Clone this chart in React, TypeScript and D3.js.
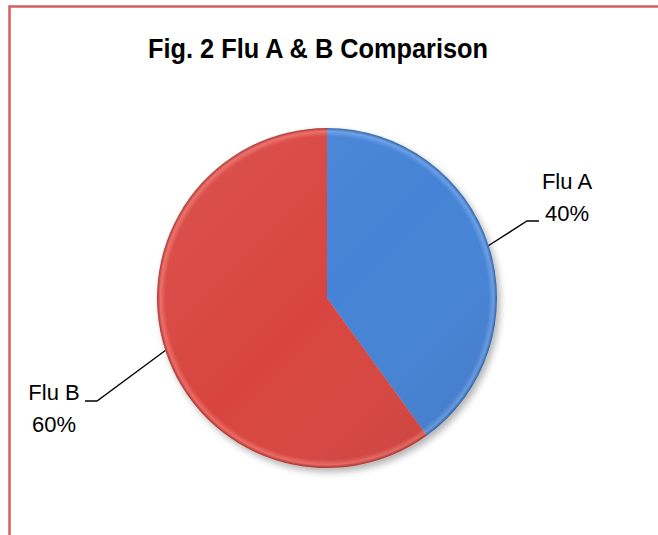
import React from "react";
import * as d3 from "d3";

const categories = ["Flu A", "Flu B"];
const values = [40, 60];
const percentLabels = ["40%", "60%"];
const title = "Fig. 2 Flu A & B Comparison";

const W = 658;
const H = 535;
const cx = 327;
const cy = 298;
const R = 170;

const baseColors = ["#4583d6", "#d84540"];
const lightColors = ["#6a9fe6", "#ec6a64"];
const darkColors = ["#2d62a8", "#a8302c"];

// label layout: elbow and end of leader line, text anchor position
const labelLayout = [
  { elbow: [527, 221], end: [539, 221], tx: 567, ty: [189, 221] },
  { elbow: [97, 401], end: [85, 401], tx: 54, ty: [400, 432] },
];

export default function App() {
  const pie = d3
    .pie<number>()
    .sort(null)
    .value((d) => d)
    .startAngle(0)
    .endAngle(2 * Math.PI);
  const arcs = pie(values);
  const arc = d3.arc<d3.PieArcDatum<number>>().innerRadius(0).outerRadius(R);

  return (
    <svg
      width={W}
      height={H}
      style={{ position: "absolute", left: 0, top: 0, display: "block", background: "#fff" }}
    >
      <defs>
        <filter id="shadow" x="-20%" y="-20%" width="140%" height="140%">
          <feGaussianBlur in="SourceAlpha" stdDeviation="3.5" />
          <feOffset dx="3" dy="4" />
          <feComponentTransfer>
            <feFuncA type="linear" slope="0.3" />
          </feComponentTransfer>
          <feMerge>
            <feMergeNode />
            <feMergeNode in="SourceGraphic" />
          </feMerge>
        </filter>
        {baseColors.map((c, i) => (
          <radialGradient key={i} id={`rg${i}`} gradientUnits="userSpaceOnUse" cx={0} cy={0} r={R}>
            <stop offset="0%" stopColor={c} />
            <stop offset="95%" stopColor={c} />
            <stop offset="98%" stopColor={lightColors[i]} />
            <stop offset="100%" stopColor={darkColors[i]} />
          </radialGradient>
        ))}
        <linearGradient id="shade" gradientUnits="userSpaceOnUse" x1={-R} y1={-R} x2={R} y2={R}>
          <stop offset="0%" stopColor="#fff" stopOpacity="0.08" />
          <stop offset="50%" stopColor="#fff" stopOpacity="0" />
          <stop offset="100%" stopColor="#000" stopOpacity="0.1" />
        </linearGradient>
      </defs>

      <rect
        x={9.5}
        y={6.5}
        width={W + 20}
        height={H + 20}
        fill="none"
        stroke="#d2605e"
        strokeWidth={2.5}
      />

      <text
        x={318}
        y={58}
        textAnchor="middle"
        fontFamily="'Liberation Sans', Arial, sans-serif"
        fontWeight="bold"
        fontSize={28}
        textLength={340}
        lengthAdjust="spacingAndGlyphs"
        fill="#000"
      >
        {title}
      </text>

      <g transform={`translate(${cx},${cy})`}>
        <g filter="url(#shadow)">
          {arcs.map((a, i) => (
            <path key={i} d={arc(a) || ""} fill={`url(#rg${i})`} />
          ))}
        </g>
        {arcs.map((a, i) => (
          <path key={"s" + i} d={arc(a) || ""} fill="url(#shade)" />
        ))}
      </g>

      {arcs.map((a, i) => {
        const mid = (a.startAngle + a.endAngle) / 2;
        const sx = cx + R * Math.sin(mid);
        const sy = cy - R * Math.cos(mid);
        const L = labelLayout[i];
        return (
          <g key={"l" + i}>
            <polyline
              points={`${sx},${sy} ${L.elbow[0]},${L.elbow[1]} ${L.end[0]},${L.end[1]}`}
              fill="none"
              stroke="#000"
              strokeWidth={1.3}
            />
            <text
              x={L.tx}
              y={L.ty[0]}
              textAnchor="middle"
              fontFamily="'Liberation Sans', Arial, sans-serif"
              fontSize={22}
              fill="#000"
            >
              {categories[i]}
            </text>
            <text
              x={L.tx}
              y={L.ty[1]}
              textAnchor="middle"
              fontFamily="'Liberation Sans', Arial, sans-serif"
              fontSize={22}
              fill="#000"
            >
              {percentLabels[i]}
            </text>
          </g>
        );
      })}
    </svg>
  );
}
